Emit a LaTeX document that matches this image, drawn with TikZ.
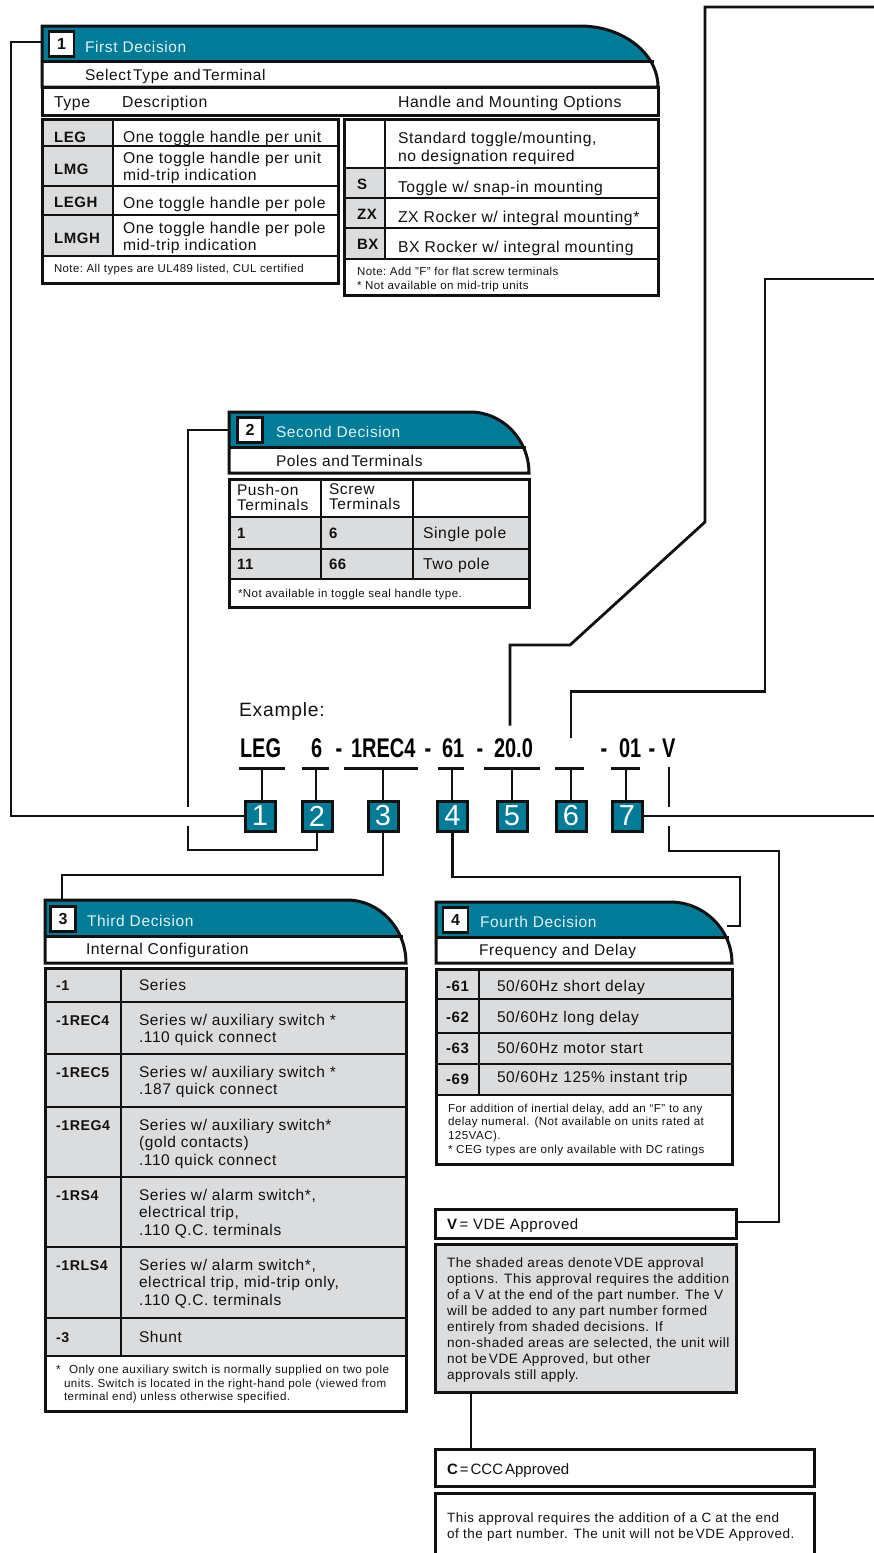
\documentclass[tikz,border=0pt]{standalone}
\usepackage{fontspec}
\setmainfont{Liberation Sans}[LetterSpace=4]
\newfontfamily\cond[FakeStretch=0.74]{Liberation Sans}
\newfontfamily\plain{Liberation Sans}
\definecolor{teal1}{HTML}{007C99}
\definecolor{graybg}{HTML}{DBDCDE}
\definecolor{ink}{HTML}{111111}
\definecolor{paleink}{HTML}{E4F2F6}
\newcount\tc
\tikzset{
 txt/.style={inner sep=0,outer sep=0,anchor=base west,text=ink},
 outline/.style={draw=ink,line width=3pt,line join=miter},
 rule/.style={draw=ink,line width=2pt},
 conn/.style={draw=ink,line width=2.8pt,line join=miter},
 stem/.style={draw=ink,line width=2.2pt},
 nbox/.style={outline,inner sep=0,outer sep=0,anchor=north west},
 badge/.style={draw=ink,line width=3pt,fill=teal1,inner sep=0,outer sep=0,minimum width=30pt,minimum height=30pt,text=white,font=\plain\fontsize{29}{29}\selectfont},
 numtag/.style={draw=ink,line width=2.4pt,fill=white,inner sep=0,outer sep=0,minimum width=25pt,minimum height=25pt,text=ink,font=\plain\bfseries\fontsize{16}{16}\selectfont},
}
\newcommand\tx[4]{\global\advance\tc by 1\relax
 \node[txt,font=\fontsize{#3}{#3}\selectfont] (t\the\tc) at (#1,#2) {#4};}
\newcommand\ml[5]{\global\advance\tc by 1\relax
 \node[txt] (t\the\tc) at (#1,#2) {\fontsize{#3}{#4}\selectfont\begin{tabular}[t]{@{}l@{}}#5\end{tabular}};}
\newcommand\cd[2]{\global\advance\tc by 1\relax
 \node[txt,text=black,font=\cond\bfseries\fontsize{27}{27}\selectfont] (t\the\tc) at (#1,757) {#2};}
\newcommand\tight[1]{{\spaceskip=2pt #1}}
% name x1 y1 x2 y2 fill
\newcommand\rbox[6]{\node[nbox,fill=#6,minimum width={(#4-#2)*1pt},minimum height={(#5-#3)*1pt}] (#1) at (#2,#3) {};}
% header: L T HB R BB cs
\newcommand\hdr[6]{
 \begin{scope}\clip (#1,#2) rectangle (#4,#3);
  \fill[teal1] (#1,#2) -- (#6,#2) .. controls ({#6+0.55*(#4-#6)},#2) and (#4,{#5-0.55*(#5-#2)}) .. (#4,#5) -- (#1,#5) -- cycle;
 \end{scope}
 \draw[outline] (#1,#5) -- (#1,#2) -- (#6,#2) .. controls ({#6+0.55*(#4-#6)},#2) and (#4,{#5-0.55*(#5-#2)}) .. (#4,#5) -- cycle;
 \draw[outline] (#1,#3) -- ({#4-0.055*(#4-#6)},#3);
}
\begin{document}
\begin{tikzpicture}[x=1pt,y=-1pt]
\useasboundingbox (0,0) rectangle (874,1553);
\begin{scope}
\clip (0,0) rectangle (874,1553);

% ===== Box 1
\hdr{42}{26}{61}{658}{87}{580}
\node[numtag] (n1) at (61.5,44) {1};
\tx{85}{52}{15.5}{\textcolor{paleink}{First Decision}}
\tx{85}{80}{15.5}{\tight{Select Type} \tight{and Terminal}}
\rbox{colhead}{42}{87}{658}{115}{white}
\tx{54}{107}{15.8}{Type}
\tx{122}{107}{15.8}{Description}
\tx{398}{107}{15.8}{Handle and Mounting Options}
% left table
\fill[graybg] (42,119) rectangle (113,256);
\foreach \y in {146,186,215,256} \draw[rule] (42,\y) -- (338,\y);
\draw[rule] (113,119) -- (113,256);
\rbox{tabA}{42}{119}{338}{283}{none}
\tx{54}{142}{15}{\bfseries LEG}
\tx{54}{174}{15}{\bfseries LMG}
\tx{54}{207}{15}{\bfseries LEGH}
\tx{54}{243}{15}{\bfseries LMGH}
\tx{123}{142}{15.7}{One toggle handle per unit}
\ml{123}{163}{15.7}{17}{One toggle handle per unit\\mid-trip indication}
\tx{123}{208}{15.7}{One toggle handle per pole}
\ml{123}{233}{15.7}{17}{One toggle handle per pole\\mid-trip indication}
\tx{54}{272}{11.4}{\frenchspacing Note: All types are UL489 listed, CUL certified}
% right table
\fill[graybg] (344,168) rectangle (385,259);
\foreach \y in {168,198,228,259} \draw[rule] (344,\y) -- (658,\y);
\draw[rule] (385,119) -- (385,259);
\rbox{tabB}{344}{119}{658}{295}{none}
\tx{357}{189}{15}{\bfseries S}
\tx{357}{219}{15}{\bfseries ZX}
\tx{357}{249}{15}{\bfseries BX}
\ml{398}{143}{15.7}{18}{Standard toggle/mounting,\\no designation required}
\tx{398}{192}{15.7}{Toggle w/ snap-in mounting}
\tx{398}{222}{15.7}{ZX Rocker w/ integral mounting*}
\tx{398}{252}{15.7}{BX Rocker w/ integral mounting}
\ml{357}{275}{11.5}{14}{\frenchspacing Note: Add "F" for flat screw terminals\\{}* Not available on mid-trip units}

% ===== Box 2
\hdr{229}{412}{447}{529}{473}{470}
\node[numtag] (n2) at (250,430) {2};
\tx{276}{437}{15.5}{\textcolor{paleink}{Second Decision}}
\tx{276}{466}{15.5}{Poles \tight{and Terminals}}
\fill[graybg] (229,517) rectangle (529,579);
\foreach \y in {517,549,579} \draw[rule] (229,\y) -- (529,\y);
\foreach \x in {321,413} \draw[rule] (\x,479) -- (\x,579);
\rbox{tabC}{229}{479}{529}{607}{none}
\ml{237}{495}{15.5}{15}{Push-on\\Terminals}
\ml{329}{494}{15.5}{15}{Screw\\Terminals}
\tx{237}{538}{15}{\bfseries 1}
\tx{329}{538}{15}{\bfseries 6}
\tx{423}{538}{15.7}{Single pole}
\tx{237}{569}{15}{\bfseries 11}
\tx{329}{569}{15}{\bfseries 66}
\tx{423}{569}{15.7}{Two pole}
\tx{238}{597}{11.5}{*Not available in toggle seal handle type.}

% ===== Example
\tx{239}{716}{19.3}{Example:}
\cd{240}{LEG}
\cd{311}{6}
\cd{335.5}{-}
\cd{351}{1REC4}
\cd{424.5}{-}
\cd{442}{61}
\cd{476.5}{-}
\cd{494}{20.0}
\cd{600.5}{-}
\cd{619}{01}
\cd{648.5}{-}
\cd{662}{V}

\node[badge] (b1) at (260,816) {1};
\node[badge] (b2) at (317,816) {2};
\node[badge] (b3) at (383,816) {3};
\node[badge] (b4) at (452.5,816) {4};
\node[badge] (b5) at (512,816) {5};
\node[badge] (b6) at (571,816) {6};
\node[badge] (b7) at (627,816) {7};

\foreach \n/\l/\r/\s in {1/239/285/262,2/302/329/316,3/344/418/383,4/438/464/452,5/484/540/512,6/555/584/571,7/611/640/626}{
  \coordinate (ul\n) at (\l,768.5);
  \coordinate (ur\n) at (\r,768.5);
  \coordinate (us\n) at (\s,768.5);
  \draw[stem,line width=2.6pt] (ul\n) -- (ur\n);
  \draw[stem] (us\n) -- (us\n |- b\n.north);
}
\coordinate (vtop) at (669,767);
\coordinate (vgap) at (669,807);
\draw[stem] (vtop) -- (vgap);

% ===== Box 3
\hdr{45}{900}{936}{406}{963}{347}
\node[numtag] (n3) at (63,919) {3};
\tx{87}{926}{15.5}{\textcolor{paleink}{Third Decision}}
\tx{86}{954}{15.7}{Internal Configuration}
\fill[graybg] (45,968) rectangle (406,1356);
\foreach \y in {1002,1054,1107,1177,1247,1318,1356} \draw[rule] (45,\y) -- (406,\y);
\draw[rule] (121,968) -- (121,1356);
\rbox{tabD}{45}{968}{406}{1411}{none}
\tx{56}{990}{14.2}{\bfseries -1}
\tx{139}{990}{15.5}{Series}
\tx{56}{1025}{14.2}{\bfseries -1REC4}
\ml{139}{1025}{15.5}{17.5}{Series w/ auxiliary switch *\\.110 quick connect}
\tx{56}{1077}{14.2}{\bfseries -1REC5}
\ml{139}{1077}{15.5}{17.5}{Series w/ auxiliary switch *\\.187 quick connect}
\tx{56}{1130}{14.2}{\bfseries -1REG4}
\ml{139}{1130}{15.5}{17.5}{Series w/ auxiliary switch*\\(gold contacts)\\.110 quick connect}
\tx{56}{1200}{14.2}{\bfseries -1RS4}
\ml{139}{1200}{15.5}{17.5}{Series w/ alarm switch*,\\electrical trip,\\.110 Q.C. terminals}
\tx{56}{1270}{14.2}{\bfseries -1RLS4}
\ml{139}{1270}{15.5}{17.5}{Series w/ alarm switch*,\\electrical trip, mid-trip only,\\.110 Q.C. terminals}
\tx{56}{1342}{14.2}{\bfseries -3}
\tx{139}{1342}{15.5}{Shunt}
\tx{56}{1373}{11.6}{*}
\tx{69}{1373}{11.7}{Only one auxiliary switch is normally supplied on two pole}
\ml{64}{1387}{11.6}{13.5}{units.\ Switch is located in the right-hand pole (viewed from\\terminal end) unless otherwise specified.}

% ===== Box 4
\hdr{436}{902}{937}{732}{963}{670}
\node[numtag] (n4) at (455.5,920) {4};
\tx{480}{927}{15.5}{\textcolor{paleink}{Fourth Decision}}
\tx{479}{955}{15.5}{Frequency and Delay}
\fill[graybg] (436,969) rectangle (732,1095);
\foreach \y in {999,1033,1064,1095} \draw[rule] (436,\y) -- (732,\y);
\draw[rule] (479,969) -- (479,1095);
\rbox{tabE}{436}{969}{732}{1164}{none}
\tx{446}{991}{15}{\bfseries -61}
\tx{497}{991}{15.5}{50/60Hz short delay}
\tx{446}{1022}{15}{\bfseries -62}
\tx{497}{1022}{15.5}{50/60Hz long delay}
\tx{446}{1053}{15}{\bfseries -63}
\tx{497}{1053}{15.5}{50/60Hz motor start}
\tx{446}{1084}{15}{\bfseries -69}
\tx{497}{1082}{15.5}{50/60Hz 125\% instant trip}
\ml{448}{1112}{11.6}{13.7}{\frenchspacing For addition of inertial delay, add an “F” to any\\delay numeral. (Not available on units rated at\\125VAC).\\{}* CEG types are only available with DC ratings}

% ===== VDE / CCC
\rbox{vbox}{435}{1209}{736}{1238}{white}
\tx{447}{1229}{15}{\tight{\textbf{V} =} VDE Approved}
\rbox{vnote}{435}{1244}{736}{1392}{graybg}
\ml{447}{1267}{13.6}{16}{The shaded areas \tight{denote VDE} approval\\options. This approval requires the addition\\of a V at the end of the part number. The V\\will be added to any part number formed\\entirely from shaded decisions. If\\non-shaded areas are selected, the unit will\\not \tight{be VDE} Approved, but other\\approvals still apply.}
\rbox{cbox}{435}{1449}{814}{1486}{white}
\tx{447}{1474}{15}{\addfontfeature{LetterSpace=0}\tight{\textbf{C} = CCC Approved}}
\rbox{cnote}{435}{1493}{814}{1575}{white}
\ml{447}{1522}{13.45}{16}{This approval requires the addition of a C at the end\\of the part number. The unit will not \tight{be VDE} Approved.}

% ===== Connectors
\coordinate (h1) at (42,42);
\coordinate (h2) at (229,430);
\coordinate (h3) at (62,900);
\coordinate (h4) at (727,926);
\coordinate (gap2) at (188,826);
\coordinate (gapt2) at (188,807);
\coordinate (rail1) at (11,816);
\draw[conn] (h1) -- (11,42) -- (rail1) -- (b1.west);
\draw[conn] (h2) -- (188,430) -- (gapt2);
\draw[conn] (gap2) -- (188,850) -- (b2.south |- 0,850) -- (b2.south);
\draw[conn] (b3.south) -- (b3.south |- 0,875) -- (62,875) -- (h3);
\draw[conn] (b4.south) -- (b4.south |- 0,877) -- (740,877) -- (740,926) -- (h4);
\coordinate (edgeA) at (874,7);
\coordinate (s5) at (510,725.5);
\draw[conn] (edgeA) -- (705,7) -- (705,522) -- (570,645) -- (510,645) -- (s5);
\coordinate (edgeB) at (874,279);
\coordinate (s6) at (571,738);
\draw[conn] (edgeB) -- (765,279) -- (765,691.5) -- (571,691.5) -- (s6);
\coordinate (edgeC) at (874,816);
\draw[conn] (b7.east) -- (edgeC);
\coordinate (vlow) at (669,826);
\draw[conn] (vlow) -- (669,851) -- (779,851) -- (779,1222) -- (vbox.east |- 0,1222);
\draw[conn] (vnote.south -| 471,0) -- (cbox.north -| 471,0);
\end{scope}
\end{tikzpicture}
\end{document}
